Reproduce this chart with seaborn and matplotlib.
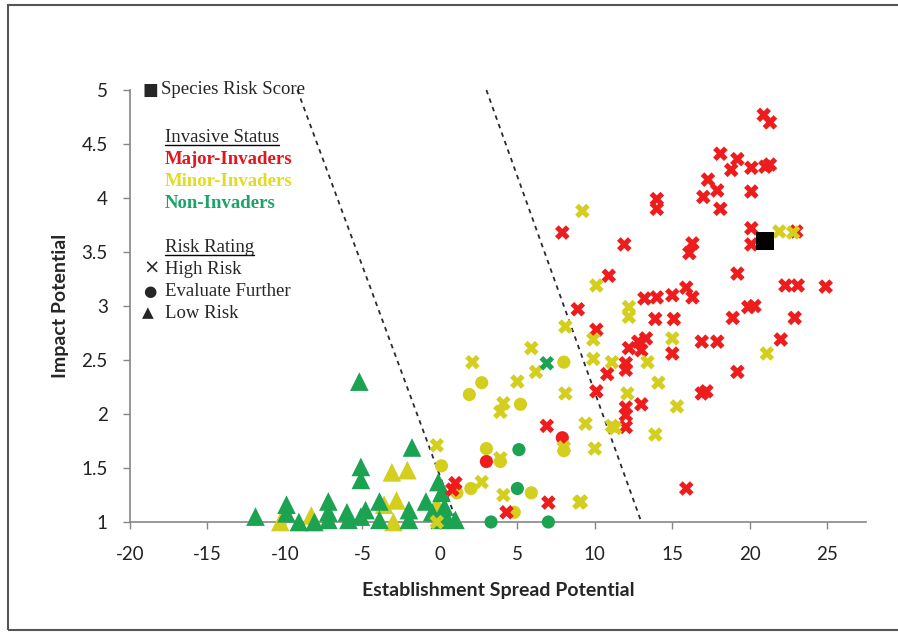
import matplotlib
matplotlib.use("Agg")
import matplotlib.pyplot as plt
import seaborn as sns
import pandas as pd

# Major-Invaders
major_high_x = [20.9, 21.3, 18.1, 19.2, 18.8, 20.1, 21.0, 21.3, 17.3, 17.9, 17.0, 20.1, 18.1, 14.0, 14.0,
                7.9, 20.1, 20.1, 23.0, 11.9, 16.3, 16.1, 19.2, 10.9, 22.3, 23.1, 24.9, 13.2, 14.0, 15.0,
                15.9, 16.3, 19.9, 20.3, 8.9, 13.9, 15.1, 18.9, 22.9, 10.1, 22.0, 12.2, 12.8, 13.3, 13.0,
                15.0, 16.9, 17.9, 12.0, 12.0, 10.8, 19.2, 10.1, 16.9, 17.2, 12.0, 13.0, 12.0, 12.0, 15.9,
                6.9, 4.3, 7.0, 0.8, 1.0]
major_high_y = [4.77, 4.70, 4.41, 4.36, 4.26, 4.28, 4.29, 4.31, 4.17, 4.07, 4.01, 4.06, 3.90, 3.99, 3.90,
                3.68, 3.72, 3.57, 3.69, 3.57, 3.58, 3.49, 3.30, 3.28, 3.19, 3.19, 3.18, 3.07, 3.08, 3.10,
                3.17, 3.08, 2.99, 3.00, 2.97, 2.88, 2.88, 2.89, 2.89, 2.78, 2.69, 2.61, 2.67, 2.70, 2.59,
                2.56, 2.67, 2.67, 2.47, 2.41, 2.37, 2.39, 2.21, 2.19, 2.21, 2.06, 2.09, 1.99, 1.88, 1.31,
                1.89, 1.09, 1.18, 1.30, 1.36]
major_eval_x = [7.9, 3.0]
major_eval_y = [1.78, 1.56]

# Minor-Invaders
minor_high_x = [21.9, 22.8, 10.1, 9.2, 12.2, 12.2, 8.1, 9.9, 15.0, 21.1, 9.9, 11.1, 13.4, 14.1, 12.1,
                15.3, 9.4, 11.1, 11.3, 13.9, 10.0, 9.1, 2.1, 5.9, 6.2, 5.0, 4.1, 3.9, 8.1, 8.0,
                3.9, 2.7, 4.1, 9.0, -0.2, -0.2]
minor_high_y = [3.69, 3.68, 3.19, 3.88, 2.99, 2.90, 2.81, 2.69, 2.70, 2.56, 2.51, 2.48, 2.48, 2.29, 2.19,
                2.07, 1.91, 1.89, 1.87, 1.81, 1.68, 1.19, 2.48, 2.61, 2.39, 2.30, 2.10, 2.02, 2.19, 1.69,
                1.59, 1.37, 1.25, 1.18, 1.71, 1.00]
minor_eval_x = [8.0, 2.7, 1.9, 5.2, 3.0, 3.9, 2.0, 1.1, 5.9, 4.8, 0.1, 8.0]
minor_eval_y = [2.48, 2.29, 2.18, 2.09, 1.68, 1.56, 1.31, 1.27, 1.27, 1.09, 1.52, 1.66]
minor_low_x = [-3.1, -2.1, -2.8, -8.3, -10.3, -3.0, -0.2, -3.6]
minor_low_y = [1.46, 1.48, 1.20, 1.06, 1.00, 1.00, 1.16, 1.16]

# Non-Invaders
non_high_x = [6.9]
non_high_y = [2.47]
non_eval_x = [5.1, 5.0, 3.3, 7.0]
non_eval_y = [1.67, 1.31, 1.00, 1.00]
non_low_x = [-5.2, -1.8, -5.1, -5.1, -11.9, -9.9, -9.9, -9.1, -8.1, -7.2, -7.2, -7.2, -6.0, -5.9,
             -5.1, -4.8, -3.9, -3.9, -2.0, -2.0, -0.9, -0.5, -0.1, 0.1, 0.3, 0.4, 1.0, 0.0]
non_low_y = [2.30, 1.69, 1.51, 1.39, 1.05, 1.16, 1.08, 1.00, 1.00, 1.19, 1.09, 1.02, 1.09, 1.02,
             1.05, 1.11, 1.19, 1.02, 1.11, 1.02, 1.19, 1.09, 1.37, 1.27, 1.14, 1.05, 1.02, 1.02]

species_x = [21.0]
species_y = [3.6]

# dashed boundaries
line1_x = [-9.2, 1.1]
line1_y = [5, 1]
line2_x = [3.0, 13.0]
line2_y = [5, 1]

x_ticks = [-20, -15, -10, -5, 0, 5, 10, 15, 20, 25]
y_ticks = [1, 1.5, 2, 2.5, 3, 3.5, 4, 4.5, 5]
y_ticklabels = ["1", "1.5", "2", "2.5", "3", "3.5", "4", "4.5", "5"]

statuses = ["Major-Invaders", "Minor-Invaders", "Non-Invaders"]
colors = {"Major-Invaders": "#EE1C1C", "Minor-Invaders": "#D4CF1E", "Non-Invaders": "#1BA352"}
text_colors = {"Major-Invaders": "#E8141B", "Minor-Invaders": "#E2DC1C", "Non-Invaders": "#1BA368"}


def make_df(groups):
    frames = []
    for status, xs, ys in groups:
        frames.append(pd.DataFrame({"x": xs, "y": ys, "status": status}))
    return pd.concat(frames, ignore_index=True)


high_df = make_df([("Major-Invaders", major_high_x, major_high_y),
                   ("Minor-Invaders", minor_high_x, minor_high_y),
                   ("Non-Invaders", non_high_x, non_high_y)])
eval_df = make_df([("Major-Invaders", major_eval_x, major_eval_y),
                   ("Minor-Invaders", minor_eval_x, minor_eval_y),
                   ("Non-Invaders", non_eval_x, non_eval_y)])
low_df = make_df([("Minor-Invaders", minor_low_x, minor_low_y),
                  ("Non-Invaders", non_low_x, non_low_y)])

sns.set_theme(style="white")
plt.rcParams["font.family"] = ["Lato", "DejaVu Sans"]
plt.rcParams["axes.unicode_minus"] = False

W, H = 898, 634
fig = plt.figure(figsize=(W / 100, H / 100), dpi=100)
ax = fig.add_axes([130 / W, 1 - 522 / H, (866 - 130) / W, (522 - 90) / H])

sns.scatterplot(data=low_df, x="x", y="y", hue="status", palette=colors, marker="^", s=180,
                linewidth=0, legend=False, ax=ax, clip_on=False, zorder=3)
sns.scatterplot(data=eval_df, x="x", y="y", hue="status", palette=colors, marker="o", s=90,
                linewidth=0, legend=False, ax=ax, clip_on=False, zorder=3)
sns.scatterplot(data=high_df, x="x", y="y", hue="status", palette=colors, marker="X", s=110,
                linewidth=0, legend=False, ax=ax, clip_on=False, zorder=3)
sns.scatterplot(x=species_x, y=species_y, color="black", marker="s", s=160, linewidth=0,
                legend=False, ax=ax, zorder=4)

ax.plot(line1_x, line1_y, color="#2a2a33", lw=1.3, ls=(0, (2.5, 2.5)), zorder=2)
ax.plot(line2_x, line2_y, color="#2a2a33", lw=1.3, ls=(0, (2.5, 2.5)), zorder=2)

ax.set_xlim(-20, 27.5)
ax.set_ylim(1, 5)
ax.set_xticks(x_ticks)
ax.set_yticks(y_ticks)
ax.set_yticklabels(y_ticklabels)
ax.tick_params(axis="both", direction="out", length=5, width=1, color="#868686",
               labelsize=13.5, labelcolor="#222222", left=True, bottom=True)
ax.tick_params(axis="x", pad=12)
ax.tick_params(axis="y", pad=11)
for side in ["top", "right"]:
    ax.spines[side].set_visible(False)
for side in ["left", "bottom"]:
    ax.spines[side].set_color("#868686")
    ax.spines[side].set_linewidth(1.2)
ax.grid(False)

ax.set_xlabel("Establishment Spread Potential", fontsize=14, fontweight="bold", labelpad=14)
ax.set_ylabel("Impact Potential", fontsize=14, fontweight="bold", labelpad=9)

# in-plot legend
serif = ["Liberation Serif", "DejaVu Serif"]
sym = ["DejaVu Sans"]
fs = 13.5


def fx(px):
    return px / W


def fy(py):
    return 1 - py / H


fig.text(fx(143), fy(90), "\u25A0", fontsize=12, family=sym, va="center")
fig.text(fx(161), fy(90), "Species Risk Score", fontsize=fs, family=serif, va="center")
underlined = [fig.text(fx(165), fy(137), "Invasive Status", fontsize=fs, family=serif, va="center")]
for i, st in enumerate(statuses):
    fig.text(fx(165), fy(159 + 22 * i), st, fontsize=fs, family=serif, fontweight="bold",
             color=text_colors[st], va="center")
underlined.append(fig.text(fx(165), fy(247), "Risk Rating", fontsize=fs, family=serif, va="center"))
fig.text(fx(143), fy(268), "\u00D7", fontsize=14, family=sym, va="center")
fig.text(fx(165), fy(269), "High Risk", fontsize=fs, family=serif, va="center")
fig.text(fx(143), fy(291), "\u25CF", fontsize=11, family=sym, va="center")
fig.text(fx(165), fy(291), "Evaluate Further", fontsize=fs, family=serif, va="center")
fig.text(fx(142), fy(313), "\u25B2", fontsize=11, family=sym, va="center")
fig.text(fx(165), fy(313), "Low Risk", fontsize=fs, family=serif, va="center")

fig.canvas.draw()
for t in underlined:
    bb = t.get_window_extent()
    fig.add_artist(plt.Line2D([bb.x0, bb.x1], [bb.y0 + 1, bb.y0 + 1], transform=None,
                              color="black", lw=1))

# outer frame
fig.add_artist(plt.Rectangle((8 / W, 4 / H), 1.2, 1 - 9 / H, transform=fig.transFigure,
                             fill=False, edgecolor="#555555", lw=1.5))

fig.savefig("out.png", dpi=100)
